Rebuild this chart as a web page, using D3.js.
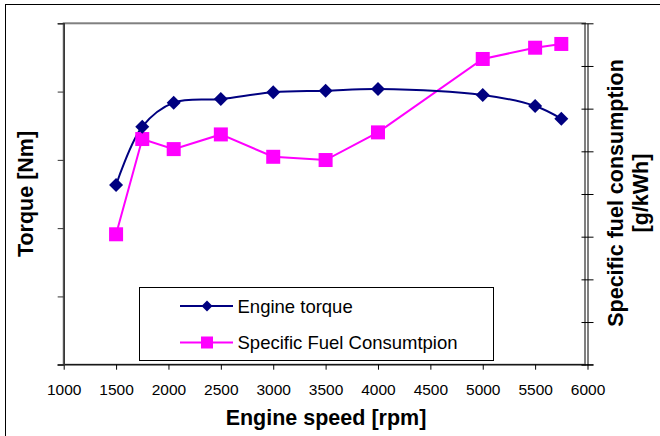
<!DOCTYPE html>
<html>
<head>
<meta charset="utf-8">
<script src="https://cdn.jsdelivr.net/npm/d3@7"></script>
<style>
  html, body { margin: 0; padding: 0; background: #fff; }
  svg { display: block; font-family: "Liberation Sans", Arial, sans-serif; }
</style>
</head>
<body>
<svg id="chart" width="660" height="436"></svg>
<script>
// Engine speed samples (rpm)
const speeds = [1500, 1750, 2050, 2500, 3000, 3500, 4000, 5000, 5500, 5750];
// Engine torque (Nm)
const torque = [131.6, 174.3, 191.9, 194.6, 199.5, 200.6, 201.9, 197.5, 189.4, 180.1];
// Specific fuel consumption (g/kWh)
const sfc = [226.4, 282.2, 276.3, 284.9, 271.8, 269.9, 286.1, 329.1, 335.7, 337.9];
// Axis tick values
const xTicks = [1000, 1500, 2000, 2500, 3000, 3500, 4000, 4500, 5000, 5500, 6000];
const torqueTicks = [0, 50, 100, 150, 200, 250];
const sfcTicks = [150, 175, 200, 225, 250, 275, 300, 325, 350];
const seriesNames = ["Engine torque", "Specific Fuel Consumtpion"];

const svg = d3.select("#chart");
const plotLeft = 63.7, plotRight = 587.5, plotTop = 23.3, plotBottom = 364.7;

const x = d3.scaleLinear().domain([1000, 6000]).range([plotLeft, plotRight]);
const yL = d3.scaleLinear().domain([0, 250]).range([plotBottom, plotTop]);
const yR = d3.scaleLinear().domain([150, 350]).range([plotBottom, plotTop]);

// Outer chart frame
svg.append("rect")
  .attr("x", 5.5).attr("y", 4.5).attr("width", 700).attr("height", 500)
  .attr("fill", "none").attr("stroke", "#000").attr("stroke-width", 1);

// Plot area border
svg.append("rect")
  .attr("x", plotLeft).attr("y", plotTop).attr("width", plotRight - 2.5 - plotLeft).attr("height", plotBottom - plotTop)
  .attr("fill", "none").attr("stroke", "#808080").attr("stroke-width", 2);

// Bottom axis
const xAxis = d3.axisBottom(x).tickValues(xTicks).tickFormat(d3.format("d"))
  .tickSize(5).tickPadding(14).tickSizeOuter(0);
const gx = svg.append("g").attr("transform", `translate(0,${plotBottom})`).call(xAxis);
gx.attr("font-size", null).attr("font-family", null);
gx.select(".domain").remove();
gx.append("line").attr("x1", plotLeft - 6).attr("x2", plotRight + 6).attr("stroke", "#000");
gx.selectAll(".tick line").attr("stroke", "#000");
gx.selectAll(".tick text").style("font-size", "15.5px").attr("fill", "#000");

// Left axis (no labels)
const yAxisL = d3.axisLeft(yL).tickValues(torqueTicks).tickSize(6).tickFormat("");
const gl = svg.append("g").attr("transform", `translate(${plotLeft},0)`).call(yAxisL);
gl.select(".domain").attr("stroke", "#333").attr("stroke-width", 1.5);
gl.selectAll(".tick line").attr("stroke", "#333");

// Right axis (no labels), ticks cross the axis
const yAxisR = d3.axisRight(yR).tickValues(sfcTicks).tickSize(6).tickFormat("").tickSizeOuter(0);
const gr = svg.append("g").attr("transform", `translate(${plotRight},0)`).call(yAxisR);
gr.select(".domain").attr("stroke", "#000");
gr.selectAll(".tick line").attr("x1", -6).attr("x2", 6).attr("stroke", "#000");

// Axis titles
svg.append("text")
  .attr("x", 326).attr("y", 425)
  .attr("text-anchor", "middle").attr("font-size", 21.5).attr("font-weight", "bold")
  .text("Engine speed [rpm]");

svg.append("text")
  .attr("transform", "translate(33,194) rotate(-90)")
  .attr("text-anchor", "middle").attr("font-size", 21.5).attr("font-weight", "bold")
  .text("Torque [Nm]");

const rt = svg.append("text")
  .attr("transform", "translate(623,193) rotate(-90)")
  .attr("text-anchor", "middle").attr("font-size", 21.5).attr("font-weight", "bold");
rt.append("tspan").attr("x", 0).attr("dy", 0).text("Specific fuel consumption");
rt.append("tspan").attr("x", 0).attr("dy", 25).text("[g/kWh]");

// Series lines
const torqueData = speeds.map((s, i) => ({ s, v: torque[i] }));
const sfcData = speeds.map((s, i) => ({ s, v: sfc[i] }));

svg.append("path")
  .datum(sfcData)
  .attr("fill", "none").attr("stroke", "#FF00FF").attr("stroke-width", 2)
  .attr("d", d3.line().x(d => x(d.s)).y(d => yR(d.v)));

svg.append("path")
  .datum(torqueData)
  .attr("fill", "none").attr("stroke", "#000080").attr("stroke-width", 2)
  .attr("d", d3.line().curve(d3.curveCatmullRom.alpha(0.5)).x(d => x(d.s)).y(d => yL(d.v)));

// Markers
const sq = 14;
svg.append("g").selectAll("rect").data(sfcData).join("rect")
  .attr("x", d => x(d.s) - sq / 2).attr("y", d => yR(d.v) - sq / 2)
  .attr("width", sq).attr("height", sq).attr("fill", "#FF00FF");

const diamond = "M0,-7L7,0L0,7L-7,0Z";
svg.append("g").selectAll("path").data(torqueData).join("path")
  .attr("transform", d => `translate(${x(d.s)},${yL(d.v)})`)
  .attr("d", diamond).attr("fill", "#000080");

// Legend
const lg = svg.append("g");
lg.append("rect")
  .attr("x", 139.5).attr("y", 287.5).attr("width", 354).attr("height", 73)
  .attr("fill", "#fff").attr("stroke", "#000").attr("stroke-width", 1);

const rows = [
  { name: seriesNames[0], color: "#000080", y: 306, shape: "diamond" },
  { name: seriesNames[1], color: "#FF00FF", y: 342.5, shape: "square" }
];
rows.forEach(r => {
  lg.append("line").attr("x1", 180).attr("x2", 233).attr("y1", r.y).attr("y2", r.y)
    .attr("stroke", r.color).attr("stroke-width", 2);
  if (r.shape === "diamond") {
    lg.append("path").attr("transform", `translate(207,${r.y})`)
      .attr("d", "M0,-5.5L5.5,0L0,5.5L-5.5,0Z").attr("fill", r.color);
  } else {
    lg.append("rect").attr("x", 207 - 6).attr("y", r.y - 6).attr("width", 12).attr("height", 12)
      .attr("fill", r.color);
  }
  lg.append("text").attr("x", 237.5).attr("y", r.y + 6.5)
    .attr("font-size", 18.5).text(r.name);
});
</script>
</body>
</html>
